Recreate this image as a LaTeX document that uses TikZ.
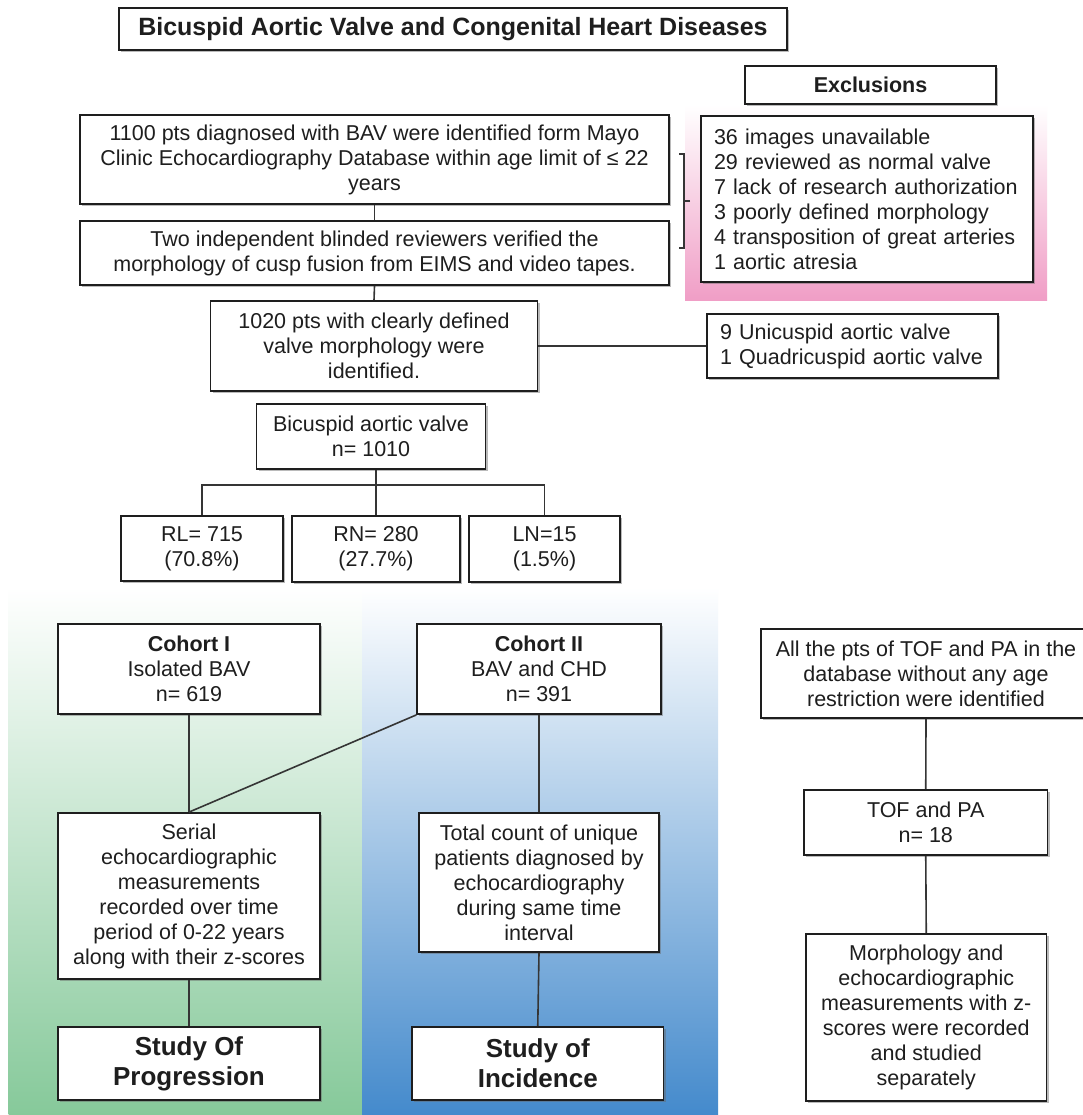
\documentclass[tikz,border=0pt]{standalone}
\usepackage{fontspec}
\setmainfont{Liberation Sans}
\usetikzlibrary{shadows,calc}
\definecolor{pinkc}{RGB}{240,158,198}
\definecolor{greenc}{RGB}{134,201,154}
\definecolor{bluec}{RGB}{68,138,204}
\definecolor{inkc}{RGB}{30,30,30}
\begin{document}
\begin{tikzpicture}[x=1pt,y=-1pt,
  box/.style={draw=inkc, line width=1.8pt, fill=white, align=center, inner sep=0pt,
    text=inkc, font=\fontsize{21.5}{25}\selectfont,
    drop shadow={shadow xshift=2pt, shadow yshift=-2pt, fill=black!60, opacity=0.45}},
  lbox/.style={box, align=left},
  bigbold/.style={font=\bfseries\fontsize{26}{30}\selectfont},
  link/.style={draw=inkc!90, line width=1.6pt},
  brace/.style={draw=inkc!90, line width=1.1pt}
]
\useasboundingbox (0,0) rectangle (1082,1115);
\fill[white] (0,0) rectangle (1082,1115);

% coloured backgrounds
\shade[top color=white, bottom color=pinkc] (685,105) rectangle (1047,300);
\shade[top color=white, bottom color=greenc] (8.6,587) rectangle (362,1115);
\shade[top color=white, bottom color=bluec] (362,587) rectangle (718,1115);

% top part
\node[box, font=\bfseries\fontsize{25}{30}\selectfont, minimum width=668pt, minimum height=42pt] (title) at (453,29) {Bicuspid Aortic Valve and Congenital Heart Diseases};
\node[box, font=\bfseries\fontsize{21.5}{25}\selectfont, minimum width=251pt, minimum height=38pt] (exh) at (870.5,85) {Exclusions};
\node[lbox, text width=306pt, minimum width=332pt, minimum height=166pt] (exc) at (867,199) {36 images unavailable\\29 reviewed as normal valve\\7 lack of research authorization\\3 poorly defined morphology\\4 transposition of great arteries\\1 aortic atresia};

\node[box, minimum width=589pt, minimum height=89pt] (b1) at (374.5,159.5) {1100 pts diagnosed with BAV were identified form Mayo\\Clinic Echocardiography Database within age limit of ≤ 22\\years};
\node[box, minimum width=589pt, minimum height=64pt] (b2) at (374.5,253) {Two independent blinded reviewers verified the\\morphology of cusp fusion from EIMS and video tapes.};
\node[box, minimum width=327pt, minimum height=90pt] (b3) at (374,346) {1020 pts with clearly defined\\valve morphology were\\identified.};
\node[lbox, text width=265pt, minimum width=291pt, minimum height=63.5pt] (uni) at (852.5,346) {9 Unicuspid aortic valve\\1 Quadricuspid aortic valve};

\node[box, minimum width=229pt, minimum height=65pt] (bav) at (371,436.5) {Bicuspid aortic valve\\n= 1010};
\node[box, minimum width=162pt, minimum height=65pt] (rl) at (202,548.5) {RL= 715\\(70.8\%)};
\node[box, minimum width=168pt, minimum height=66pt] (rn) at (376,549) {RN= 280\\(27.7\%)};
\node[box, minimum width=151pt, minimum height=66pt] (ln) at (544.5,549) {LN=15\\(1.5\%)};

% cohorts
\node[box, minimum width=262pt, minimum height=90pt] (c1) at (189,669) {\textbf{Cohort I}\\Isolated BAV\\n= 619};
\node[box, minimum width=243.5pt, minimum height=90pt] (c2) at (539,669) {\textbf{Cohort II}\\BAV and CHD\\n= 391};
\node[box, minimum width=262pt, minimum height=166pt] (ser) at (189,896) {Serial\\echocardiographic\\measurements\\recorded over time\\period of 0-22 years\\along with their z-scores};
\node[box, minimum width=240pt, minimum height=139pt] (tot) at (539,882.5) {Total count of unique\\patients diagnosed by\\echocardiography\\during same time\\interval};
\node[box, bigbold, minimum width=262pt, minimum height=73pt] (prog) at (189,1063.5) {Study Of\\Progression};
\node[box, bigbold, minimum width=251.5pt, minimum height=73pt] (inc) at (537.75,1063.5) {Study of\\Incidence};

% right column
\node[box, minimum width=330pt, minimum height=89pt] (tof) at (926,673.5) {All the pts of TOF and PA in the\\database without any age\\restriction were identified};
\node[box, minimum width=243.5pt, minimum height=65pt] (tofpa) at (925.75,822.5) {TOF and PA\\n= 18};
\node[box, minimum width=240.5pt, minimum height=167pt] (morph) at (926.25,1017.5) {Morphology and\\echocardiographic\\measurements with z-\\scores were recorded\\and studied\\separately};

% connectors
\draw[link] (b1.south) -- (b2.north);
\draw[link] (b2.south) -- (b3.north);
\draw[link] (b3.east) -- (uni.west);
\coordinate (br) at (377,485);
\draw[link] (rn.north |- bav.south) -- (rn.north);
\draw[link] (rl.north) |- (br) -| (ln.north);
\draw[link] (c1.south) -- (ser.north);
\draw[link] (c2.south west) -- (ser.north);
\draw[link] (c2.south) -- (tot.north);
\draw[link] (ser.south) -- (prog.north);
\draw[link] (tot.south) -- (inc.north);
\draw[link] (tof.south) -- (tofpa.north);
\draw[link] (tofpa.south) -- (morph.north);

% bracket
\coordinate (bt) at (679,154);
\coordinate (bb) at (679,248);
\coordinate (bm) at (690,201);
\draw[brace] (bt) -- ++(5,0) |- (bb);
\draw[brace] (bm) -- ++(-6,0);
\end{tikzpicture}
\end{document}
